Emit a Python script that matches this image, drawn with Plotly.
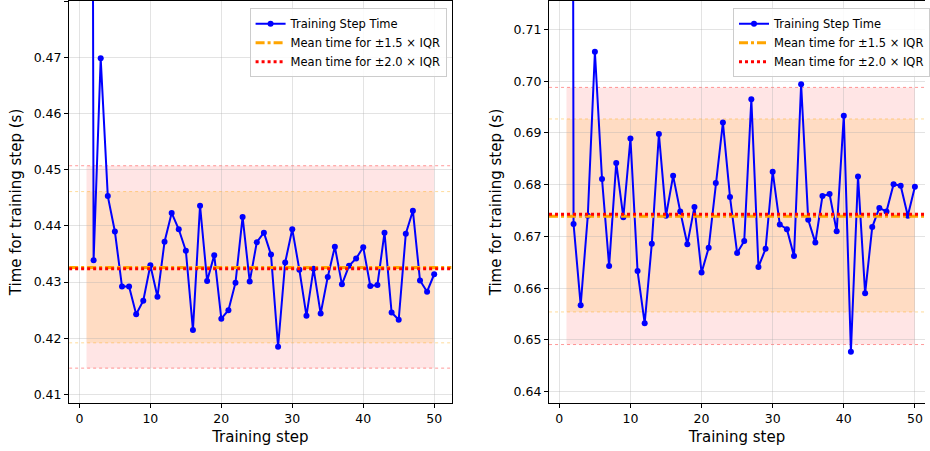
import plotly.graph_objects as go

steps = list(range(1, 51))

left_times = [1.0, 0.4339, 0.4698, 0.4453, 0.4390, 0.4292, 0.4292, 0.4243, 0.4267, 0.4330,
              0.4274, 0.4372, 0.4423, 0.4394, 0.4356, 0.4215, 0.4436, 0.4302, 0.4348, 0.4235,
              0.4250, 0.4299, 0.4416, 0.4301, 0.4371, 0.4388, 0.4349, 0.4185, 0.4335, 0.4394,
              0.4322, 0.4240, 0.4324, 0.4244, 0.4309, 0.4363, 0.4296, 0.4329, 0.4342, 0.4362,
              0.4293, 0.4295, 0.4388, 0.4246, 0.4233, 0.4386, 0.4427, 0.4303, 0.4283, 0.4314]
left_mean15 = 0.4326
left_mean20 = 0.4324
left_band15 = [0.4192, 0.4461]
left_band20 = [0.4147, 0.4507]
left_yrange = [0.4085, 0.4800]

right_times = [1.5, 0.6724, 0.6567, 0.6740, 0.7057, 0.6811, 0.6643, 0.6842, 0.6737, 0.6889,
               0.6633, 0.6532, 0.6686, 0.6898, 0.6740, 0.6817, 0.6748, 0.6685, 0.6757, 0.6630,
               0.6678, 0.6803, 0.6920, 0.6776, 0.6668, 0.6691, 0.6965, 0.6641, 0.6676, 0.6825,
               0.6723, 0.6714, 0.6662, 0.6994, 0.6732, 0.6688, 0.6778, 0.6782, 0.6710, 0.6933,
               0.6477, 0.6816, 0.6590, 0.6718, 0.6755, 0.6748, 0.6801, 0.6798, 0.6740, 0.6796]
right_mean15 = 0.6739
right_mean20 = 0.6743
right_band15 = [0.6554, 0.6927]
right_band20 = [0.6491, 0.6988]
right_yrange = [0.6378, 0.7155]

left_xrange = [-1.45, 52.45]
right_xrange = [-1.45, 51.42]

FONT = "DejaVu Sans"
labels = ["Training Step Time", "Mean time for ±1.5 × IQR", "Mean time for ±2.0 × IQR"]

fig = go.Figure()

def add_panel(times, m15, m20, b15, b20, xr, xa, ya, leg):
    fig.add_trace(go.Scatter(
        x=steps, y=times, mode="lines+markers", name=labels[0],
        line=dict(color="blue", width=2), marker=dict(color="blue", size=6),
        xaxis=xa, yaxis=ya, legend=leg))
    fig.add_trace(go.Scatter(
        x=xr, y=[m15, m15], mode="lines", name=labels[1],
        line=dict(color="orange", width=3, dash="dashdot"),
        xaxis=xa, yaxis=ya, legend=leg))
    fig.add_trace(go.Scatter(
        x=xr, y=[m20, m20], mode="lines", name=labels[2],
        line=dict(color="red", width=3, dash="dot"),
        xaxis=xa, yaxis=ya, legend=leg))
    fig.add_shape(type="rect", xref=xa, yref=ya, x0=steps[0], x1=steps[-1],
                  y0=b20[0], y1=b20[1], fillcolor="rgba(255,0,0,0.10)",
                  line=dict(width=0), layer="below")
    fig.add_shape(type="rect", xref=xa, yref=ya, x0=steps[0], x1=steps[-1],
                  y0=b15[0], y1=b15[1], fillcolor="rgba(255,165,0,0.15)",
                  line=dict(width=0), layer="below")
    for v in b20:
        fig.add_shape(type="line", xref=xa, yref=ya, x0=xr[0], x1=xr[1],
                      y0=v, y1=v, line=dict(color="rgba(255,0,0,0.5)", width=0.8, dash="dot"),
                      layer="below")
    for v in b15:
        fig.add_shape(type="line", xref=xa, yref=ya, x0=xr[0], x1=xr[1],
                      y0=v, y1=v, line=dict(color="rgba(255,165,0,0.5)", width=0.8, dash="dot"),
                      layer="below")

add_panel(left_times, left_mean15, left_mean20, left_band15, left_band20, left_xrange, "x", "y", "legend")
add_panel(right_times, right_mean15, right_mean20, right_band15, right_band20, right_xrange, "x2", "y2", "legend2")

axis_common = dict(
    showgrid=True, gridcolor="rgba(176,176,176,0.35)", gridwidth=1,
    ticks="outside", ticklen=4, tickwidth=1, tickcolor="black",
    tickfont=dict(family=FONT, size=12.5, color="black"),
    showline=True, linecolor="black", linewidth=1.2,
    zeroline=False, automargin=False,
)

legend_common = dict(
    bgcolor="rgba(255,255,255,0.85)", bordercolor="#cccccc", borderwidth=1,
    font=dict(family=FONT, size=11.5, color="black"),
    yanchor="top", tracegroupgap=0, itemwidth=30,
)

fig.update_layout(
    width=930, height=451,
    margin=dict(l=0, r=0, t=1, b=48),
    plot_bgcolor="white", paper_bgcolor="white",
    font=dict(family=FONT, color="black"),
    showlegend=True,
    xaxis=dict(domain=[69.5 / 930, 454 / 930], range=left_xrange, dtick=10, tick0=0,
               mirror=True, anchor="y",
               title=dict(text="Training step", font=dict(family=FONT, size=15), standoff=6),
               **axis_common),
    yaxis=dict(domain=[0, 1], range=left_yrange, dtick=0.01, tick0=0.41, tickformat=".2f",
               mirror=True, anchor="x",
               title=dict(text="Time for training step (s)", font=dict(family=FONT, size=15), standoff=8),
               **axis_common),
    xaxis2=dict(domain=[552 / 930, 1.0], range=right_xrange, dtick=10, tick0=0,
                mirror=True, anchor="y2",
                title=dict(text="Training step", font=dict(family=FONT, size=15), standoff=6),
                **axis_common),
    yaxis2=dict(domain=[0, 1], range=right_yrange, dtick=0.01, tick0=0.64, tickformat=".2f",
                mirror=False, anchor="x2",
                title=dict(text="Time for training step (s)", font=dict(family=FONT, size=15), standoff=8),
                **axis_common),
    legend=dict(x=449 / 930, xanchor="right", y=0.982, **legend_common),
    legend2=dict(x=737 / 930, xanchor="left", y=0.982, **legend_common),
)

fig.write_html("out.html")
